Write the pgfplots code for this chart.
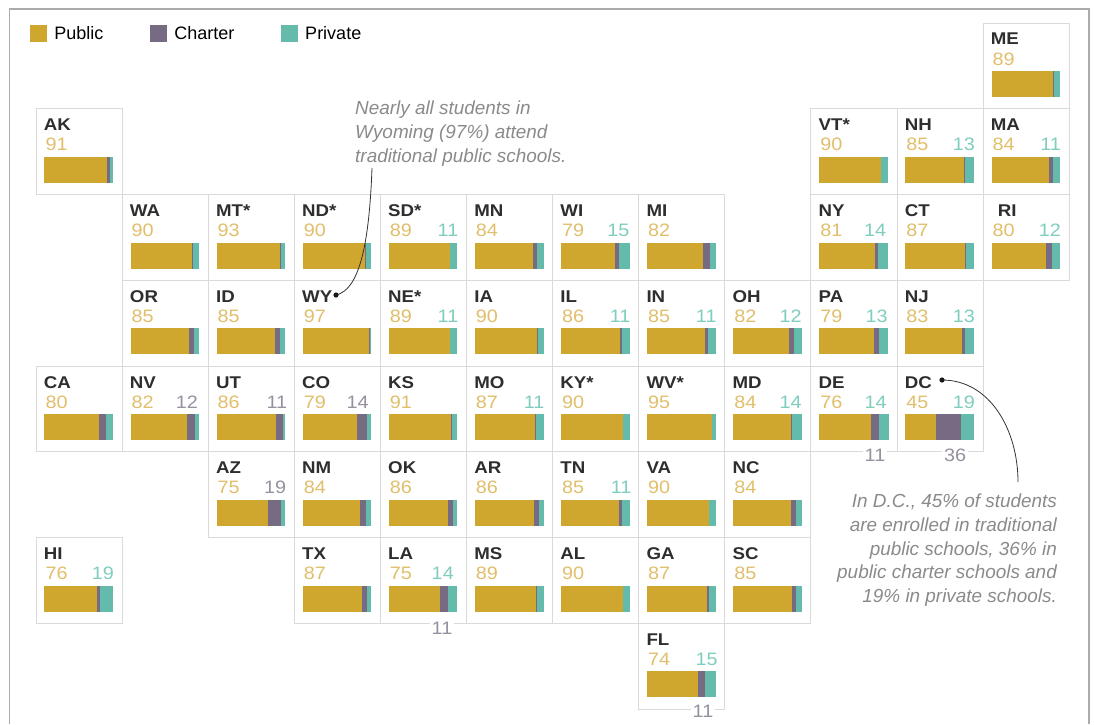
\documentclass[border=0pt]{standalone}
\usepackage{fontspec}
\setmainfont{Liberation Sans}
\newfontfamily\stretched[FakeStretch=1.1]{Liberation Sans}
\usepackage{pgfplots}
\pgfplotsset{compat=1.18}
\definecolor{gold}{HTML}{CFA72F}
\definecolor{chart}{HTML}{776B84}
\definecolor{priv}{HTML}{65BBAB}
\definecolor{goldt}{HTML}{E0BE6A}
\definecolor{privt}{HTML}{7FCDBE}
\definecolor{chartt}{HTML}{96909F}
\definecolor{gridc}{HTML}{DADADA}
\definecolor{note}{HTML}{8A8A8A}
\definecolor{namec}{HTML}{2E2E2E}
\newcommand{\nf}{\stretched\fontsize{17}{18}\selectfont\bfseries\color{namec}}
\newcommand{\vf}{\stretched\fontsize{18}{20}\selectfont}
\newcommand{\lf}{\fontsize{18}{20}\selectfont}
\pgfplotsset{
  tile/.style={
    scale only axis, width=86.09pt, height=85.75pt, anchor=north west,
    xmin=-12.39, xmax=113.1, ymin=0, ymax=85.75, y dir=reverse,
    xtick=\empty, ytick=\empty, axis line style={gridc, line width=0.8pt},
    clip=false, xbar stacked, bar width=26pt,
    every axis plot/.append style={draw=none},
  }
}
% col, row, name, public, charter, private, second label, its colour, its shift
\newcommand{\tile}[9]{%
  \pgfmathsetmacro{\tx}{36+86.09*#1}%
  \pgfmathsetmacro{\ty}{724-23-85.75*#2}%
  \begin{axis}[tile, at={(\tx pt,\ty pt)}]
    \addplot[fill=gold] coordinates {(#4,61)};
    \addplot[fill=chart] coordinates {(#5,61)};
    \addplot[fill=priv] coordinates {(#6,61)};
    \node[anchor=base west, inner sep=0pt, font=\nf] at (axis cs:-1.2,22) {#3};
    \node[anchor=base west, inner sep=0pt, font=\vf, text=goldt] at (axis cs:1.2,42) {#4};
    \node[anchor=base east, inner sep=0pt, font=\vf, text=#8, xshift=#9] at (axis cs:100,42) {#7};
  \end{axis}%
}
\begin{document}
\begin{tikzpicture}
\path[use as bounding box] (0,0) rectangle (1094pt,724pt);
\tile{11}{0}{ME}{89}{1}{10}{}{privt}{0pt}
\tile{0}{1}{AK}{91}{5}{4}{}{privt}{0pt}
\tile{9}{1}{VT*}{90}{0}{10}{}{privt}{0pt}
\tile{10}{1}{NH}{85}{2}{13}{13}{privt}{1pt}
\tile{11}{1}{MA}{84}{5}{11}{11}{privt}{1pt}
\tile{1}{2}{WA}{90}{1}{9}{}{privt}{0pt}
\tile{2}{2}{MT*}{93}{1}{6}{}{privt}{0pt}
\tile{3}{2}{ND*}{90}{1}{9}{}{privt}{0pt}
\tile{4}{2}{SD*}{89}{0}{11}{11}{privt}{1pt}
\tile{5}{2}{MN}{84}{6}{10}{}{privt}{0pt}
\tile{6}{2}{WI}{79}{6}{15}{15}{privt}{0pt}
\tile{7}{2}{MI}{82}{10}{8}{}{privt}{0pt}
\tile{9}{2}{NY}{81}{5}{14}{14}{privt}{-1.5pt}
\tile{10}{2}{CT}{87}{1}{12}{}{privt}{0pt}
\tile{11}{2}{\hspace*{7pt}RI}{80}{8}{12}{12}{privt}{1pt}
\tile{1}{3}{OR}{85}{7}{8}{}{privt}{0pt}
\tile{2}{3}{ID}{85}{8}{7}{}{privt}{0pt}
\tile{3}{3}{WY}{97}{1}{2}{}{privt}{0pt}
\tile{4}{3}{NE*}{89}{0}{11}{11}{privt}{1pt}
\tile{5}{3}{IA}{90}{1}{9}{}{privt}{0pt}
\tile{6}{3}{IL}{86}{3}{11}{11}{privt}{1pt}
\tile{7}{3}{IN}{85}{4}{11}{11}{privt}{1pt}
\tile{8}{3}{OH}{82}{6}{12}{12}{privt}{0pt}
\tile{9}{3}{PA}{79}{8}{13}{13}{privt}{0pt}
\tile{10}{3}{NJ}{83}{4}{13}{13}{privt}{1pt}
\tile{0}{4}{CA}{80}{10}{10}{}{privt}{0pt}
\tile{1}{4}{NV}{82}{12}{6}{12}{chartt}{-1pt}
\tile{2}{4}{UT}{86}{11}{3}{11}{chartt}{2pt}
\tile{3}{4}{CO}{79}{14}{7}{14}{chartt}{-2.5pt}
\tile{4}{4}{KS}{91}{1}{8}{}{privt}{0pt}
\tile{5}{4}{MO}{87}{2}{11}{11}{privt}{1pt}
\tile{6}{4}{KY*}{90}{0}{10}{}{privt}{0pt}
\tile{7}{4}{WV*}{95}{0}{5}{}{privt}{0pt}
\tile{8}{4}{MD}{84}{2}{14}{14}{privt}{0pt}
\tile{9}{4}{DE}{76}{11}{14}{14}{privt}{-1pt}
\tile{10}{4}{DC}{45}{36}{19}{19}{privt}{1pt}
\tile{2}{5}{AZ}{75}{19}{6}{19}{chartt}{1pt}
\tile{3}{5}{NM}{84}{8}{8}{}{privt}{0pt}
\tile{4}{5}{OK}{86}{8}{6}{}{privt}{0pt}
\tile{5}{5}{AR}{86}{7}{7}{}{privt}{0pt}
\tile{6}{5}{TN}{85}{4}{11}{11}{privt}{2pt}
\tile{7}{5}{VA}{90}{0}{10}{}{privt}{0pt}
\tile{8}{5}{NC}{84}{7}{9}{}{privt}{0pt}
\tile{0}{6}{HI}{76}{5}{19}{19}{privt}{1pt}
\tile{3}{6}{TX}{87}{7}{6}{}{privt}{0pt}
\tile{4}{6}{LA}{75}{11}{14}{14}{privt}{-3.5pt}
\tile{5}{6}{MS}{89}{1}{10}{}{privt}{0pt}
\tile{6}{6}{AL}{90}{0}{10}{}{privt}{0pt}
\tile{7}{6}{GA}{87}{3}{10}{}{privt}{0pt}
\tile{8}{6}{SC}{85}{6}{9}{}{privt}{0pt}
\tile{7}{7}{FL}{74}{11}{15}{15}{privt}{2pt}
\begin{axis}[
  scale only axis, width=1094pt, height=724pt, at={(0,0)}, anchor=south west,
  xmin=0, xmax=1094, ymin=0, ymax=724, y dir=reverse, hide axis, clip=false,
  legend columns=3,
  legend image code/.code={\fill[#1] (0pt,-8pt) rectangle (16pt,8pt);},
  legend style={draw=none, fill=none, inner sep=0pt, outer sep=0pt,
    at={(axis cs:30,24)}, anchor=north west, font=\lf,
    /tikz/every odd column/.append style={column sep=6pt},
    /tikz/every even column/.append style={column sep=44.5pt}},
]
\addlegendimage{gold}
\addlegendentry{Public}
\addlegendimage{chart}
\addlegendentry{Charter}
\addlegendimage{priv}
\addlegendentry{Private}
\addplot[forget plot, color=black!33, line width=1.5pt] coordinates {(9.5,724) (9.5,9) (1089,9) (1089,724)};
% charter labels below the tiles
\node[fill=white, inner sep=2pt, font=\vf, text=chartt] at (axis cs:875,455) {11};
\node[fill=white, inner sep=2pt, font=\vf, text=chartt] at (axis cs:955,455) {36};
\node[fill=white, inner sep=2pt, font=\vf, text=chartt] at (axis cs:442,628) {11};
\node[fill=white, inner sep=2pt, font=\vf, text=chartt] at (axis cs:703,711) {11};
% annotations
\node[anchor=north west, inner sep=0pt, align=left, text=note, font=\fontsize{18.9}{24}\selectfont\itshape] at (axis cs:355,101)
  {Nearly all students in\\Wyoming (97\%) attend\\traditional public schools.};
\node[anchor=north east, inner sep=0pt, align=right, text=note, font=\fontsize{18.9}{23.6}\selectfont\itshape] at (axis cs:1057,494)
  {In D.C., 45\% of students\\are enrolled in traditional\\public schools, 36\% in\\public charter schools and\\19\% in private schools.};
\draw[line width=0.8pt, black!80] (axis cs:372,168) .. controls (axis cs:369,250) and (axis cs:358,290) .. (axis cs:336,295);
\fill[black!90] (axis cs:336,295) circle (2.6pt);
\draw[line width=0.8pt, black!80] (axis cs:942,380) .. controls (axis cs:990,380) and (axis cs:1018,430) .. (axis cs:1018,482);
\fill[black!90] (axis cs:942,380) circle (2.6pt);
\end{axis}
\end{tikzpicture}
\end{document}
